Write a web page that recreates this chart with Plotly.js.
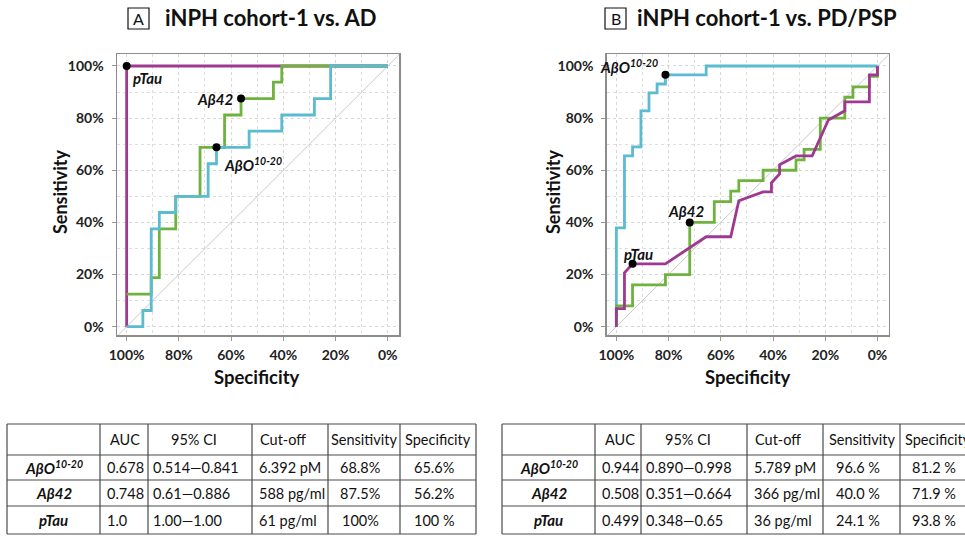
<!DOCTYPE html>
<html><head><meta charset="utf-8">
<script src="https://cdn.plot.ly/plotly-3.0.1.min.js"></script>
<style>html,body{margin:0;padding:0;background:#fff}#chart{width:965px;height:540px}</style>
</head><body><div id="chart"></div>
<script>
// ---------- data ----------
const tickVals = [0, 0.2, 0.4, 0.6, 0.8, 1];
const tickText = ['0%', '20%', '40%', '60%', '80%', '100%'];
const minorVals = [0.1, 0.3, 0.5, 0.7, 0.9];
const chanceSpec = [1.05, -0.05];
const chanceSens = [-0.05, 1.05];

// Panel A: iNPH cohort-1 vs. AD
const A_aboSpec = [1, 0.938, 0.938, 0.906, 0.906, 0.875, 0.875, 0.812, 0.812, 0.688, 0.688, 0.656, 0.656, 0.531, 0.531, 0.406, 0.406, 0.281, 0.281, 0.219, 0.219, 0];
const A_aboSens = [0, 0, 0.062, 0.062, 0.375, 0.375, 0.438, 0.438, 0.5, 0.5, 0.625, 0.625, 0.688, 0.688, 0.75, 0.75, 0.812, 0.812, 0.875, 0.875, 1, 1];
const A_ab42Spec = [1, 0.906, 0.906, 0.875, 0.875, 0.812, 0.812, 0.719, 0.719, 0.625, 0.625, 0.562, 0.562, 0.438, 0.438, 0.406, 0.406, 0];
const A_ab42Sens = [0.125, 0.125, 0.188, 0.188, 0.375, 0.375, 0.5, 0.5, 0.688, 0.688, 0.812, 0.812, 0.875, 0.875, 0.938, 0.938, 1, 1];
const A_ptauSpec = [1, 1, 0];
const A_ptauSens = [0, 1, 1];
const A_cutSpec = [0.656, 0.562, 1.0];
const A_cutSens = [0.688, 0.875, 1.0];

// Panel B: iNPH cohort-1 vs. PD/PSP
const B_aboSpec = [1, 1, 0.969, 0.969, 0.938, 0.938, 0.906, 0.906, 0.875, 0.875, 0.844, 0.844, 0.812, 0.812, 0.656, 0.656, 0];
const B_aboSens = [0, 0.379, 0.379, 0.655, 0.655, 0.69, 0.69, 0.828, 0.828, 0.897, 0.897, 0.931, 0.931, 0.966, 0.966, 1, 1];
const B_ab42Spec = [1, 1, 0.938, 0.938, 0.812, 0.812, 0.719, 0.719, 0.625, 0.625, 0.562, 0.562, 0.531, 0.531, 0.438, 0.438, 0.312, 0.312, 0.281, 0.281, 0.219, 0.219, 0.125, 0.125, 0.094, 0.094, 0.031, 0.031, 0, 0];
const B_ab42Sens = [0, 0.08, 0.08, 0.16, 0.16, 0.2, 0.2, 0.4, 0.4, 0.48, 0.48, 0.52, 0.52, 0.56, 0.56, 0.6, 0.6, 0.64, 0.64, 0.68, 0.68, 0.8, 0.8, 0.88, 0.88, 0.92, 0.92, 0.96, 0.96, 1];
const B_ptauSpec = [1, 1, 0.969, 0.969, 0.938, 0.812, 0.656, 0.562, 0.531, 0.438, 0.406, 0.406, 0.375, 0.375, 0.312, 0.25, 0.188, 0.125, 0.125, 0.031, 0.031, 0, 0];
const B_ptauSens = [0, 0.069, 0.069, 0.207, 0.241, 0.241, 0.345, 0.345, 0.483, 0.517, 0.517, 0.552, 0.586, 0.621, 0.655, 0.655, 0.793, 0.828, 0.862, 0.862, 0.966, 0.966, 1];
const B_cutSpec = [0.812, 0.719, 0.938];
const B_cutSens = [0.966, 0.40, 0.241];

// Tables
const tableHeader = ['', 'AUC', '95% CI', 'Cut-off', 'Sensitivity', 'Specificity'];
const markerNames = ['<b><i>AβO<sup>10-20</sup></i></b>', '<b><i>Aβ42</i></b>', '<b><i>pTau</i></b>'];
const markerLabels = ['<b><i>AβO<sup>10-20</sup></i></b>', '<b><i>Aβ42</i></b>', '<b><i>pTau</i></b>'];
const A_auc = ['0.678', '0.748', '1.0'];
const A_ci = ['0.514—0.841', '0.61—0.886', '1.00—1.00'];
const A_cut = ['6.392 pM', '588 pg/ml', '61 pg/ml'];
const A_sensTxt = ['68.8%', '87.5%', '100%'];
const A_specTxt = ['65.6%', '56.2%', '100 %'];
const B_auc = ['0.944', '0.508', '0.499'];
const B_ci = ['0.890—0.998', '0.351—0.664', '0.348—0.65'];
const B_cut = ['5.789 pM', '366 pg/ml', '36 pg/ml'];
const B_sensTxt = ['96.6 %', '40.0 %', '24.1 %'];
const B_specTxt = ['81.2 %', '71.9 %', '93.8 %'];

// ---------- styling / layout ----------
const W = 965, H = 540;
const px = v => v / W;
const py = v => 1 - v / H;
const FONT = 'Lato, "Open Sans", sans-serif';
const C_ABO = '#5bbbd0', C_AB42 = '#6fb23e', C_PTAU = '#9f3890';

function line(x, y, color, xa, ya) {
  return {type: 'scatter', mode: 'lines', x, y, xaxis: xa, yaxis: ya,
    line: {color, width: 2.8, shape: 'linear'}, hoverinfo: 'skip', showlegend: false};
}
const traces = [
  {type: 'scatter', mode: 'lines', x: chanceSpec, y: chanceSens, xaxis: 'x', yaxis: 'y', line: {color: '#c9c9c9', width: 1}, showlegend: false, hoverinfo: 'skip'},
  line(A_ptauSpec, A_ptauSens, C_PTAU, 'x', 'y'),
  line(A_ab42Spec, A_ab42Sens, C_AB42, 'x', 'y'),
  line(A_aboSpec, A_aboSens, C_ABO, 'x', 'y'),
  {type: 'scatter', mode: 'markers', x: A_cutSpec, y: A_cutSens, xaxis: 'x', yaxis: 'y', marker: {color: '#000', size: 8}, showlegend: false, cliponaxis: false},
  {type: 'scatter', mode: 'lines', x: chanceSpec, y: chanceSens, xaxis: 'x2', yaxis: 'y2', line: {color: '#c9c9c9', width: 1}, showlegend: false, hoverinfo: 'skip'},
  line(B_aboSpec, B_aboSens, C_ABO, 'x2', 'y2'),
  line(B_ab42Spec, B_ab42Sens, C_AB42, 'x2', 'y2'),
  line(B_ptauSpec, B_ptauSens, C_PTAU, 'x2', 'y2'),
  {type: 'scatter', mode: 'markers', x: B_cutSpec, y: B_cutSens, xaxis: 'x2', yaxis: 'y2', marker: {color: '#000', size: 8}, showlegend: false, cliponaxis: false}
];

function axis(domain, isX, anchor) {
  return {
    domain, anchor,
    range: isX ? [1.037, -0.043] : [-0.032, 1.046],
    tickmode: 'array', tickvals: tickVals, ticktext: tickText,
    showline: true, mirror: true, linecolor: '#8c8c8c', linewidth: 1.5,
    ticks: 'outside', ticklen: 4, tickcolor: '#9a9a9a', tickwidth: 1,
    showgrid: true, gridcolor: '#d6d6d6', griddash: 'dot', gridwidth: 1,
    minor: {tickmode: 'array', tickvals: minorVals, showgrid: true, gridcolor: '#dedede', griddash: 'dot', gridwidth: 1, ticks: ''},
    zeroline: false, fixedrange: true,
    tickfont: {family: FONT, size: 14, color: '#222', weight: 700},
    ticklabelstandoff: isX ? 3 : 5
  };
}
const yDom = [1 - 335 / H, 1 - 54 / H];

const annotations = [];
const shapes = [];
function ann(o) { annotations.push(Object.assign({showarrow: false, font: {family: FONT, size: 15, color: '#111'}}, o)); }

// panel titles
[[128, 163, 'A', 'iNPH cohort-1 vs. AD'], [605, 635, 'B', 'iNPH cohort-1 vs. PD/PSP']].forEach(([bx, tx, letter, title]) => {
  shapes.push({type: 'rect', xref: 'paper', yref: 'paper', x0: px(bx), x1: px(bx + 21), y0: py(8), y1: py(29), line: {color: '#111', width: 1.2}});
  ann({xref: 'paper', yref: 'paper', x: px(bx + 10.5), y: py(18.5), xanchor: 'center', yanchor: 'middle', text: letter, font: {family: FONT, size: 16, color: '#111'}});
  ann({xref: 'paper', yref: 'paper', x: px(tx), y: py(18), xanchor: 'left', yanchor: 'middle', text: '<b>' + title + '</b>', font: {family: FONT, size: 22, color: '#111'}});
});

// axis titles
[[257, 60], [747.5, 553]].forEach(([cx, yx]) => {
  ann({xref: 'paper', yref: 'paper', x: px(cx), y: py(377), xanchor: 'center', yanchor: 'middle', text: '<b>Specificity</b>', font: {family: FONT, size: 18.5, color: '#111'}});
  ann({xref: 'paper', yref: 'paper', x: px(yx), y: py(192), xanchor: 'center', yanchor: 'middle', textangle: -90, text: '<b>Sensitivity</b>', font: {family: FONT, size: 18, color: '#111'}});
});

// cut-off labels
const labFont = {family: FONT, size: 15, color: '#111'};
const A_labOffsets = [['left', 6, -17], ['right', -6, 0], ['left', 4, -12]];
const B_labOffsets = [['right', -5, 8], ['center', -4, 11], ['center', 6, 10]];
A_cutSpec.forEach((s, i) => ann({xref: 'x', yref: 'y', x: s, y: A_cutSens[i], text: markerLabels[i], xanchor: A_labOffsets[i][0], yanchor: 'middle', xshift: A_labOffsets[i][1], yshift: A_labOffsets[i][2], font: labFont}));
B_cutSpec.forEach((s, i) => ann({xref: 'x2', yref: 'y2', x: s, y: B_cutSens[i], text: markerLabels[i], xanchor: B_labOffsets[i][0], yanchor: 'middle', xshift: B_labOffsets[i][1], yshift: B_labOffsets[i][2], font: labFont}));

// tables
const rowEdges = [424, 455, 480, 506, 534];
function drawTable(colEdges, cols) {
  const top = rowEdges[0], bot = rowEdges[rowEdges.length - 1];
  colEdges.forEach(x => shapes.push({type: 'line', xref: 'paper', yref: 'paper', x0: px(x), x1: px(x), y0: py(top), y1: py(bot), line: {color: '#4a4a4a', width: 1.2}}));
  rowEdges.forEach(y => shapes.push({type: 'line', xref: 'paper', yref: 'paper', x0: px(colEdges[0]), x1: px(colEdges[colEdges.length - 1]), y0: py(y), y1: py(y), line: {color: '#4a4a4a', width: 1.2}}));
  const align = ['center', 'left', 'left', 'left', 'center', 'center'];
  const pad = [0, 5, 3, 5, 0, 0];
  const hAlign = ['center', 'left', 'center', 'left', 'center', 'center'];
  const hPad = [0, 8, -6, 6, 0, 0];
  tableHeader.forEach((h, c) => {
    if (!h) return;
    const x = hAlign[c] === 'left' ? colEdges[c] + hPad[c] : (colEdges[c] + colEdges[c + 1]) / 2 + hPad[c];
    ann({xref: 'paper', yref: 'paper', x: px(x), y: py((rowEdges[0] + rowEdges[1]) / 2), xanchor: hAlign[c], yanchor: 'middle', text: h, font: {family: FONT, size: 14.5, color: '#111'}});
  });
  cols.forEach((col, c) => {
    col.forEach((t, r) => {
      const x = align[c] === 'left' ? colEdges[c] + pad[c] : (colEdges[c] + colEdges[c + 1]) / 2 - (c > 0 ? 4 : 0);
      ann({xref: 'paper', yref: 'paper', x: px(x), y: py((rowEdges[r + 1] + rowEdges[r + 2]) / 2), xanchor: align[c], yanchor: 'middle', text: t, font: {family: FONT, size: c === 0 ? 15 : 14.5, color: '#111'}});
    });
  });
}
drawTable([7, 100, 148, 252, 328, 400, 476], [markerNames, A_auc, A_ci, A_cut, A_sensTxt, A_specTxt]);
drawTable([502, 595, 641, 747, 823, 900, 976], [markerNames, B_auc, B_ci, B_cut, B_sensTxt, B_specTxt]);

const layout = {
  width: W, height: H,
  margin: {l: 0, r: 0, t: 0, b: 0},
  paper_bgcolor: '#ffffff', plot_bgcolor: '#ffffff',
  showlegend: false,
  font: {family: FONT},
  xaxis: axis([117 / W, 399 / W], true, 'y'),
  yaxis: axis(yDom, false, 'x'),
  xaxis2: axis([606.7 / W, 888.7 / W], true, 'y2'),
  yaxis2: axis(yDom, false, 'x2'),
  annotations, shapes
};
Plotly.newPlot('chart', traces, layout, {displayModeBar: false, staticPlot: true});
</script>
</body></html>
